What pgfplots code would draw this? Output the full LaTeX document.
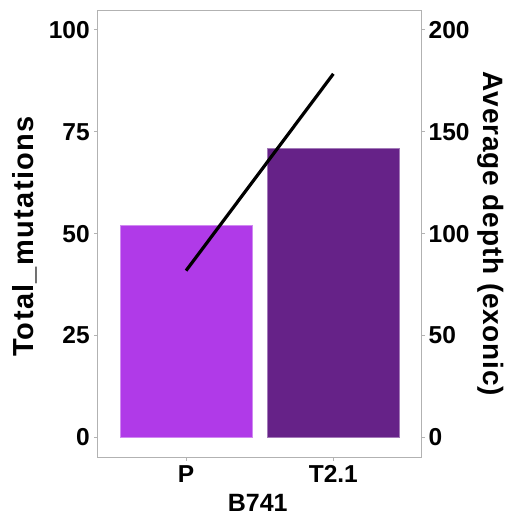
\documentclass[border=0pt]{standalone}
\usepackage{pgfplots}
\pgfplotsset{compat=1.18}
\usepackage{fontspec}
\setmainfont{Liberation Sans}
\definecolor{barP}{RGB}{176,58,232}
\definecolor{barT}{RGB}{102,34,136}
\definecolor{frame}{RGB}{178,178,178}
\begin{document}
\begin{tikzpicture}
\pgfplotsset{
  common/.style={
    scale only axis, width=324pt, height=446.6pt,
    at={(0pt,0pt)}, anchor=south west,
    xmin=0.4, xmax=2.6,
    tick align=outside, major tick length=3.5pt,
    every tick/.style={frame, line width=0.8pt},
    tick label style={font=\fontsize{24.5}{26}\selectfont\bfseries, text=black},
    /pgf/number format/assume math mode=true,
    axis line style={frame, line width=0.9pt},
  }
}
\begin{axis}[common,
  ymin=-4.91, ymax=104.7,
  axis y line*=left, axis x line*=bottom,
  ytick={0,25,50,75,100},
  xtick={1,2}, xticklabels={P,T2.1},
  yticklabel style={xshift=-1pt},
  xticklabel style={yshift=-1pt},
  clip=false,
]
\draw[frame, line width=0.9pt] (rel axis cs:0,0) rectangle (rel axis cs:1,1);
\addplot[ybar, bar width=0.9, bar shift=0pt, fill=barP, draw=barP!60!white, line width=0.4pt] coordinates {(1,52)};
\addplot[ybar, bar width=0.9, bar shift=0pt, fill=barT, draw=barT!60!white, line width=0.4pt] coordinates {(2,71)};
\end{axis}
\begin{axis}[common,
  ymin=-9.82, ymax=209.4,
  axis y line*=right, axis x line=none,
  ytick={0,50,100,150,200},
  yticklabel style={xshift=0pt},
]
\addplot[black, line width=3.2pt, line cap=butt] coordinates {(1,81.8) (2,178.4)};
\end{axis}
\node[rotate=90, font=\fontsize{29}{31}\selectfont\bfseries\addfontfeature{LetterSpace=4.7}] at (-72.7pt,220.8pt) {Total\_mutations};
\node[rotate=-90, font=\fontsize{28}{30}\selectfont\bfseries\addfontfeature{LetterSpace=3}] at (393.3pt,223.3pt) {Average depth (exonic)};
\node[font=\fontsize{25}{28}\selectfont\bfseries] at (160pt,-45.2pt) {B741};
\pgfresetboundingbox
\path[use as bounding box] (-97.7pt,-60.7pt) rectangle (414.3pt,457.3pt);
\end{tikzpicture}
\end{document}
